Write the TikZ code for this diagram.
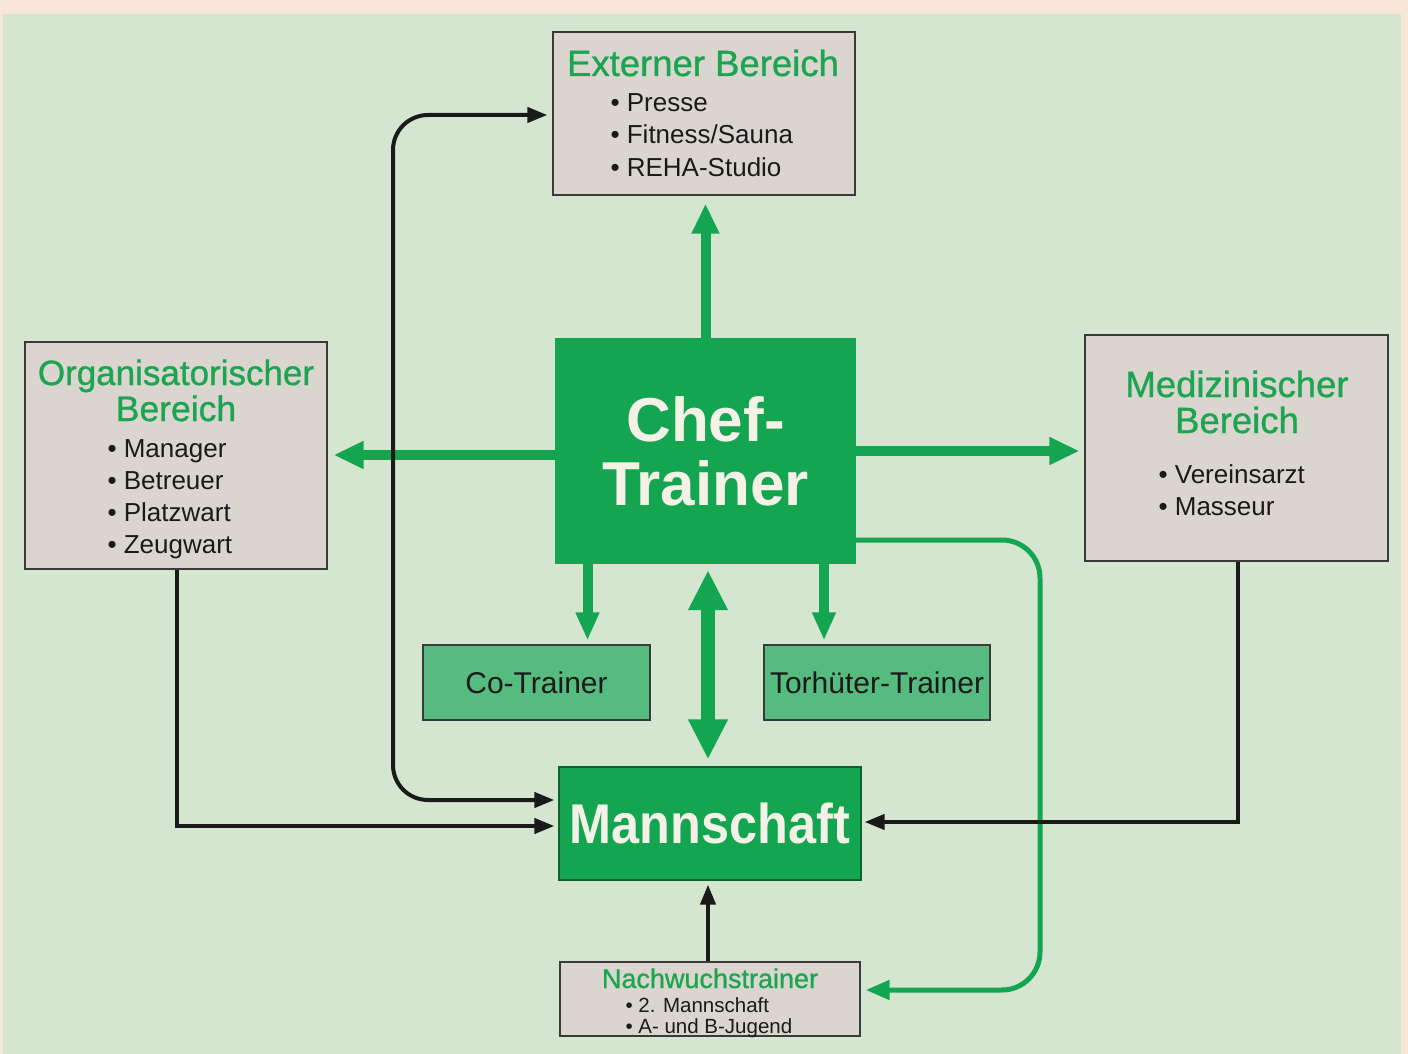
\documentclass[tikz,border=0pt]{standalone}
\usepackage{fontspec}
\setmainfont{Liberation Sans}
\newfontfamily\condfont[FakeStretch=0.9]{Liberation Sans}
\newfontfamily\medfont[FakeBold=0.9]{Liberation Sans}
\usetikzlibrary{arrows.meta}
\definecolor{peach}{HTML}{F8E6D8}
\definecolor{bggreen}{HTML}{D4E6CF}
\definecolor{boxgray}{HTML}{DBD5CF}
\definecolor{edge}{HTML}{3A3A3A}
\definecolor{maingreen}{HTML}{14A550}
\definecolor{lightgreen}{HTML}{55BB7E}
\definecolor{titlegreen}{HTML}{1BA550}
\definecolor{ink}{HTML}{1A1A1A}
\definecolor{cream}{HTML}{F4F1E6}
\tikzset{
  gbox/.style={draw=edge, line width=1.3pt, fill=boxgray, inner sep=0pt},
  ttl/.style={text=titlegreen, anchor=base, font=\fontsize{36.5}{36.5}\medfont},
  itm/.style={text=ink, anchor=base west, font=\fontsize{26}{26}\selectfont},
  garrow/.style={draw=maingreen, line width=10pt, -{Triangle[length=30pt,width=26pt]}},
  sarrow/.style={draw=maingreen, line width=10pt, -{Triangle[length=28pt,width=22pt]}},
  barrow/.style={draw=ink, line width=4pt, -{Triangle[length=20pt,width=15pt]}},
}
\begin{document}
\begin{tikzpicture}[x=1pt,y=-1pt]
\useasboundingbox (0,0) rectangle (1408,1054);
\fill[peach] (0,0) rectangle (1408,1054);
\fill[bggreen] (3,14) rectangle (1401,1054);

% boxes
\node[gbox, minimum width=302pt, minimum height=163pt] (ext) at (704,113.5) {};
\node[gbox, minimum width=302pt, minimum height=227pt] (org) at (176,455.5) {};
\node[gbox, minimum width=303pt, minimum height=226pt] (med) at (1236.5,448) {};
\node[gbox, minimum width=300pt, minimum height=74pt] (nach) at (710,999) {};
\node[fill=maingreen, inner sep=0pt, minimum width=301pt, minimum height=226pt,
      text=cream, align=center, font=\fontsize{62}{64}\selectfont\bfseries] (chef) at (705.5,451) {Chef-\\Trainer};
\node[fill=lightgreen, draw=edge, line width=1.2pt, inner sep=0pt, minimum width=227pt, minimum height=75pt,
      text=ink, font=\fontsize{30}{30}\selectfont] (co) at (536.5,682.5) {Co-Trainer};
\node[fill=lightgreen, draw=edge, line width=1.2pt, inner sep=0pt, minimum width=226pt, minimum height=75pt,
      text=ink, font=\fontsize{30}{30}\selectfont] (tor) at (877,682.5) {Torhüter-Trainer};
\node[fill=maingreen, draw=maingreen!60!black, line width=1.2pt, inner sep=0pt, minimum width=302pt, minimum height=113pt,
      text=cream, font=\fontsize{56}{56}\condfont\bfseries] (mann) at (710,823.5) {Mannschaft};

% texts
\node[ttl] (extT) at (703,76) {Externer Bereich};
\node[itm] (ext1) at (607,112) {• Presse};
\node[itm] (ext2) at (607,144) {• Fitness/Sauna};
\node[itm] (ext3) at (607,176) {• REHA-Studio};

\node[ttl, font=\fontsize{35}{35}\medfont] (orgT1) at (176,385) {Organisatorischer};
\node[ttl, font=\fontsize{35.5}{35.5}\medfont] (orgT2) at (176,421) {Bereich};
\node[itm] (org1) at (104,457) {• Manager};
\node[itm] (org2) at (104,489) {• Betreuer};
\node[itm] (org3) at (104,521) {• Platzwart};
\node[itm] (org4) at (104,553) {• Zeugwart};

\node[ttl] (medT1) at (1237,397) {Medizinischer};
\node[ttl] (medT2) at (1237,433) {Bereich};
\node[itm] (med1) at (1155,483) {• Vereinsarzt};
\node[itm] (med2) at (1155,515) {• Masseur};

\node[ttl, font=\fontsize{27}{27}\medfont] (nachT) at (710,988) {Nachwuchstrainer};
\node[itm, font=\fontsize{20.5}{20.5}\selectfont] (nach1) at (622,1012) {• 2. Mannschaft};
\node[itm, font=\fontsize{20.5}{20.5}\selectfont] (nach2) at (622,1033) {• A- und B-Jugend};

% green thick arrows
\draw[garrow, shorten >=8pt] (chef.north) -- (chef.north |- ext.south);
\draw[garrow, shorten >=6pt] ([yshift=-4pt]chef.west) -- ([yshift=-4pt]chef.west -| org.east);
\draw[garrow, shorten >=5pt] (chef.east) -- (chef.east -| med.west);
\draw[sarrow, shorten >=4pt] ([xshift=-118pt]chef.south) -- ([xshift=-118pt]chef.south |- co.north);
\draw[sarrow, shorten >=4pt] ([xshift=118.5pt]chef.south) -- ([xshift=118.5pt]chef.south |- tor.north);
\draw[draw=maingreen, line width=14pt, {Triangle[length=40pt,width=37pt]}-{Triangle[length=40pt,width=37pt]},
      shorten <=6pt, shorten >=7pt] ([xshift=2.5pt]chef.south) -- ([xshift=2.5pt]chef.south |- mann.north);

% green thin connector to Nachwuchs
\coordinate (gbend) at (1040,760);
\draw[draw=maingreen, line width=5pt, rounded corners=38pt, -{Triangle[length=24pt,width=19pt]}, shorten >=5pt]
  ([yshift=-89pt]chef.east) -| (gbend) |- ([yshift=9pt]nach.east);

% black connectors
\draw[barrow, shorten >=4pt] ([xshift=1pt]org.south) |- ([yshift=-2.5pt]mann.west);
\draw[barrow, shorten >=3pt] ([xshift=1.5pt]med.south) |- ([yshift=1.5pt]mann.east);
\draw[barrow, shorten >=4pt] ([xshift=-2pt]nach.north) -- ([xshift=-2pt]mann.south);
\coordinate (lbend) at (393,450);
\draw[draw=ink, line width=4pt, rounded corners=35pt,
      {Triangle[length=20pt,width=15pt]}-{Triangle[length=20pt,width=15pt]},
      shorten <=4pt, shorten >=5pt]
  ([yshift=23.5pt]mann.west) -| (lbend) |- ([yshift=-1.5pt]ext.west);
\end{tikzpicture}
\end{document}
